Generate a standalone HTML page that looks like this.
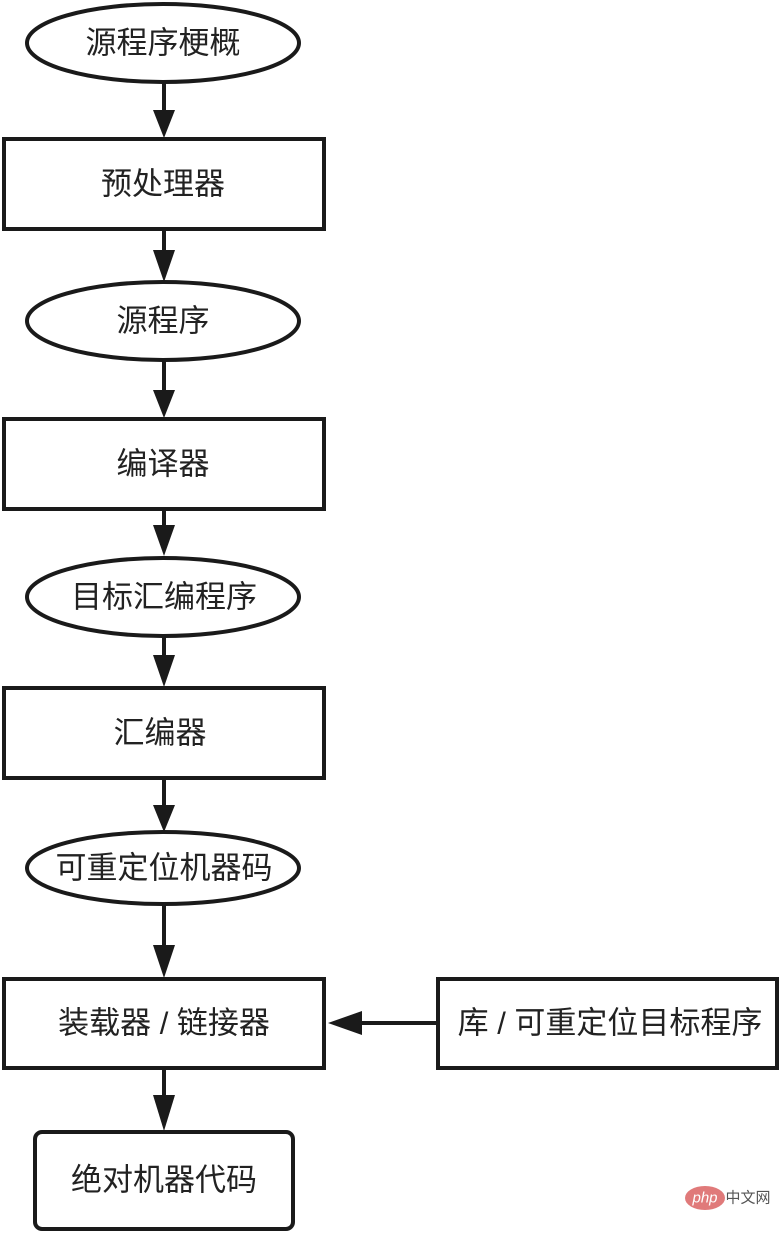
<!DOCTYPE html>
<html><head><meta charset="utf-8"><style>
html,body{margin:0;padding:0;background:#fff;}
svg text{font-family:"Liberation Sans","Noto Sans CJK SC",sans-serif;font-size:31px;fill:#222;text-anchor:middle;dominant-baseline:central;}
</style></head><body>
<svg width="779" height="1233" viewBox="0 0 779 1233" xmlns="http://www.w3.org/2000/svg">
<g fill="none" stroke="#1a1a1a" stroke-width="4">
<ellipse cx="163" cy="43" rx="136" ry="39"/>
<rect x="4" y="139" width="320" height="90"/>
<ellipse cx="163" cy="321" rx="136" ry="39"/>
<rect x="4" y="419" width="320" height="90"/>
<ellipse cx="163" cy="597" rx="136" ry="39"/>
<rect x="4" y="688" width="320" height="90"/>
<ellipse cx="163" cy="868" rx="136" ry="36"/>
<rect x="4" y="979" width="320" height="89"/>
<rect x="438" y="979" width="339" height="89"/>
<rect x="35" y="1132" width="258" height="97" rx="7"/>
<line x1="164" y1="82" x2="164" y2="115"/>
<line x1="164" y1="229" x2="164" y2="255"/>
<line x1="164" y1="360" x2="164" y2="395"/>
<line x1="164" y1="509" x2="164" y2="530"/>
<line x1="164" y1="636" x2="164" y2="660"/>
<line x1="164" y1="778" x2="164" y2="810"/>
<line x1="164" y1="904" x2="164" y2="950"/>
<line x1="164" y1="1068" x2="164" y2="1100"/>
<line x1="438" y1="1023" x2="358" y2="1023"/>
</g>
<g fill="#1a1a1a">
<polygon points="153,110 175,110 164,138"/>
<polygon points="153,250 175,250 164,282"/>
<polygon points="153,390 175,390 164,418"/>
<polygon points="153,525 175,525 164,556"/>
<polygon points="153,655 175,655 164,687"/>
<polygon points="153,805 175,805 164,832"/>
<polygon points="153,945 175,945 164,978"/>
<polygon points="153,1095 175,1095 164,1131"/>
<polygon points="362,1011 362,1035 328,1023"/>
</g>
<text x="163" y="43">源程序梗概</text>
<text x="163" y="184">预处理器</text>
<text x="163" y="321">源程序</text>
<text x="163" y="464">编译器</text>
<text x="164" y="597">目标汇编程序</text>
<text x="160" y="733">汇编器</text>
<text x="164" y="868">可重定位机器码</text>
<text x="164" y="1023">装载器 / 链接器</text>
<text x="610" y="1023">库 / 可重定位目标程序</text>
<text x="164" y="1180">绝对机器代码</text>
<ellipse cx="705" cy="1198" rx="20" ry="12" fill="#e07a7a"/>
<text x="705" y="1198" style="font-size:15px;fill:#fff;font-style:italic">php</text>
<text x="748" y="1198" style="font-size:15px;fill:#555">中文网</text>
</svg>
</body></html>
